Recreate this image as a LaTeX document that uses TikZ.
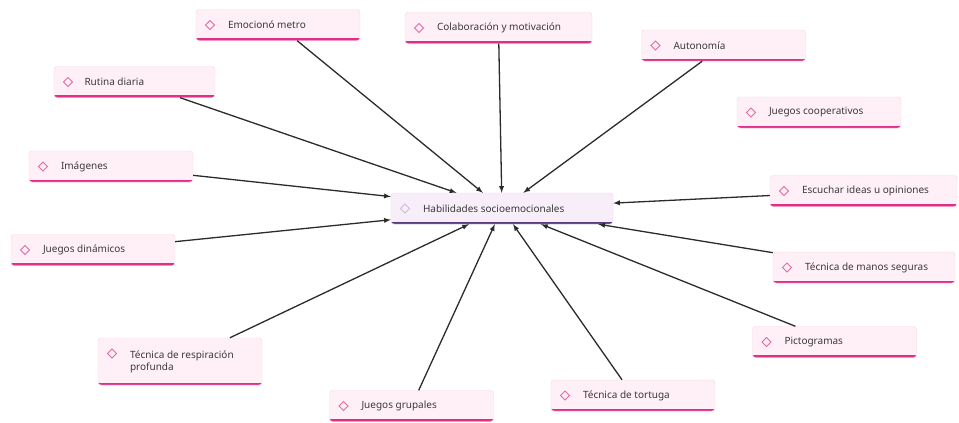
\documentclass[tikz,border=0pt]{standalone}
\usepackage{fontspec}
\setmainfont{Noto Sans}
\usetikzlibrary{arrows}
\definecolor{ideafill}{HTML}{FFF0F7}
\definecolor{idealine}{HTML}{F6D3E4}
\definecolor{ideabar}{HTML}{E02F88}
\definecolor{ideadiamond}{HTML}{E46AA6}
\definecolor{mainfill}{HTML}{F7EEFA}
\definecolor{mainline}{HTML}{E6D6EE}
\definecolor{mainbar}{HTML}{5A3C7E}
\definecolor{maindiamond}{HTML}{C9BCD6}
\definecolor{linkgray}{HTML}{2B2B2B}
\definecolor{textgray}{HTML}{3A3A3A}
\tikzstyle{idea} = [rectangle, rounded corners=3pt, draw=idealine, fill=ideafill,
    minimum width=164pt, minimum height=31pt, inner sep=0pt, text=textgray,
    font=\fontsize{10}{12}\selectfont,
    path picture={
      \draw[line width=5pt, ideabar] (path picture bounding box.south west) -- (path picture bounding box.south east);
      \draw[ideadiamond, line width=0.9pt, sharp corners] ([xshift=14pt,yshift=-15.5pt]path picture bounding box.north west)
        ++(0,4.5pt) -- ++(4.5pt,-4.5pt) -- ++(-4.5pt,-4.5pt) -- ++(-4.5pt,4.5pt) -- cycle;
    }]
\tikzstyle{mainidea} = [idea, draw=mainline, fill=mainfill, minimum width=222pt,
    path picture={
      \draw[line width=5pt, mainbar] (path picture bounding box.south west) -- (path picture bounding box.south east);
      \draw[maindiamond, line width=0.9pt, sharp corners] ([xshift=14pt,yshift=-15.5pt]path picture bounding box.north west)
        ++(0,4.5pt) -- ++(4.5pt,-4.5pt) -- ++(-4.5pt,-4.5pt) -- ++(-4.5pt,4.5pt) -- cycle;
    }]
\tikzstyle{link} = [draw=linkgray, line width=1.3pt, -latex]
\newcommand{\idea}[2][130pt]{\hspace*{30pt}\begin{minipage}{#1}\raggedright #2\end{minipage}}

\begin{document}
\begin{tikzpicture}[x=1pt,y=-1pt]
\useasboundingbox (0,0) rectangle (959,423);

\node[mainidea] (hab) at (502,208.5) {\idea[188pt]{Habilidades socioemocionales}};

\node[idea] (emo) at (278,25) {\idea{Emocionó metro}};
\node[idea, minimum width=187pt] (colab) at (498.5,28) {\idea[153pt]{Colaboración y motivación}};
\node[idea] (auto) at (723.5,45.5) {\idea{Autonomía}};
\node[idea] (coop) at (819,112.5) {\idea{Juegos cooperativos}};
\node[idea, minimum width=161pt] (rutina) at (134.5,82) {\idea{Rutina diaria}};
\node[idea] (imag) at (111,166.5) {\idea{Imágenes}};
\node[idea] (dinam) at (93,250) {\idea{Juegos dinámicos}};
\node[idea, minimum width=187pt] (escuchar) at (863.5,191) {\idea[153pt]{Escuchar ideas u opiniones}};
\node[idea, minimum width=182pt] (manos) at (864,267.5) {\idea[148pt]{Técnica de manos seguras}};
\node[idea] (picto) at (834.5,342) {\idea{Pictogramas}};
\node[idea] (tortuga) at (633,395.5) {\idea{Técnica de tortuga}};
\node[idea, minimum height=47pt] (resp) at (180,361.5) {\idea{Técnica de respiración\\profunda}};
\node[idea] (grupales) at (411.5,406) {\idea{Juegos grupales}};

\draw[link] (emo) to (hab);
\draw[link] (colab) to (hab);
\draw[link] (auto) to (hab);
\draw[link] (rutina) to (hab);
\draw[link] (imag) to (hab);
\draw[link] (dinam) to (hab);
\draw[link] (escuchar) to (hab);
\draw[link] (manos) to (hab);
\draw[link] (picto) to (hab);
\draw[link] (tortuga) to (hab);
\draw[link] (grupales) to (hab);
\draw[link] (resp) to (hab);
\end{tikzpicture}
\end{document}
